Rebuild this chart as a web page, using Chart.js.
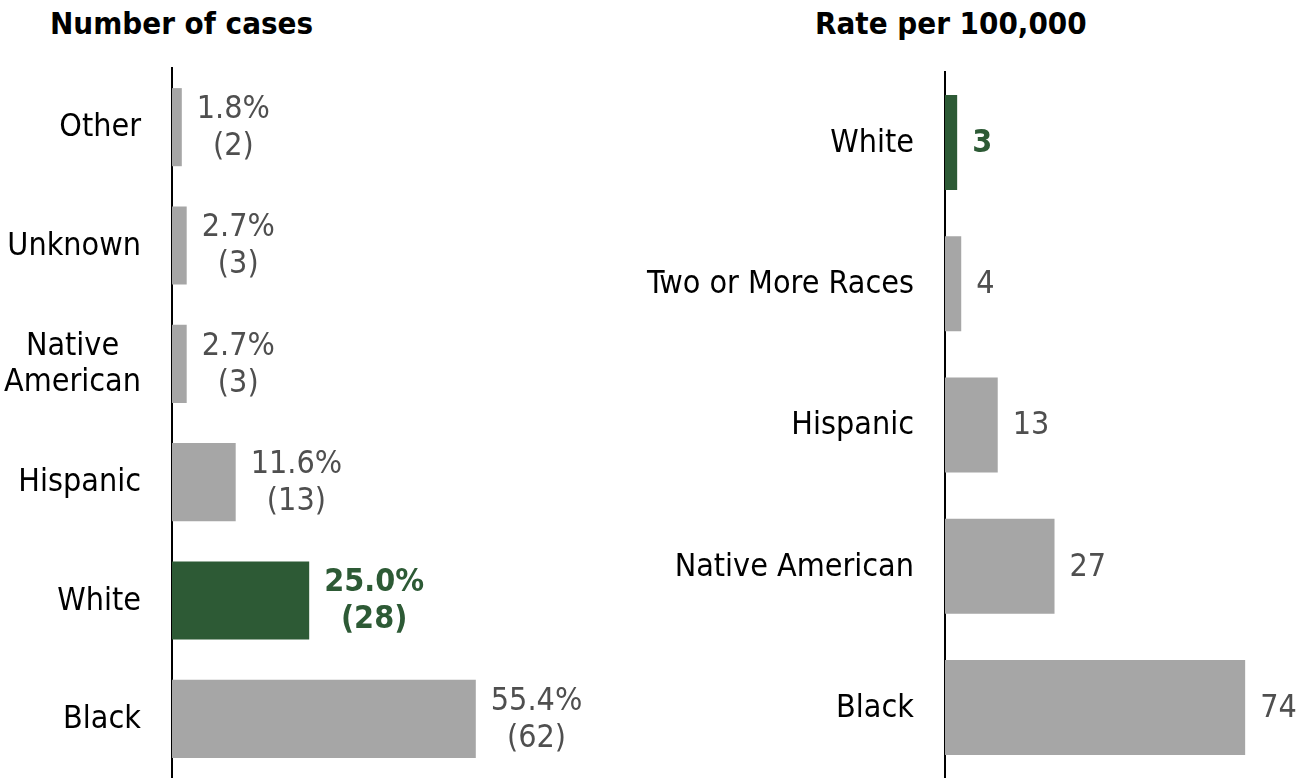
<!DOCTYPE html>
<html>
<head>
<meta charset="utf-8">
<script src="https://cdn.jsdelivr.net/npm/chart.js@4.4.1/dist/chart.umd.min.js"></script>
<style>
  html, body { margin:0; padding:0; background:#ffffff; }
  #wrap { position:relative; width:1306px; height:778px; overflow:hidden; }
  .title { position:absolute; top:8px; line-height:31px; font-family:"DejaVu Sans Condensed","DejaVu Sans",sans-serif; font-weight:bold; font-size:31px; color:#000; white-space:nowrap; }
  canvas { position:absolute; top:0; }
</style>
</head>
<body>
<div id="wrap">
  <div class="title" style="left:50px;">Number of cases</div>
  <div class="title" style="left:815px;">Rate per 100,000</div>
  <canvas id="left" width="613" height="778" style="left:0px;"></canvas>
  <canvas id="right" width="676" height="778" style="left:630px;"></canvas>
</div>
<script>
// ---- data ----
const caseCategories = ['Other', 'Unknown', ['Native', 'American'], 'Hispanic', 'White', 'Black'];
const caseCounts = [2, 3, 3, 13, 28, 62];
const casePercents = [1.8, 2.7, 2.7, 11.6, 25.0, 55.4];
const caseHighlight = 'White';

const rateCategories = ['White', 'Two or More Races', 'Hispanic', 'Native American', 'Black'];
const rateValues = [3, 4, 13, 27, 74];
const rateHighlight = 'White';

// ---- styles ----
const FONT = '"DejaVu Sans Condensed","DejaVu Sans",sans-serif';
const GRAY = '#a6a6a6';
const GREEN = '#2d5a35';
const VALUE_GRAY = '#4f4f4f';
const LABEL_SIZE = 32;
const VALUE_SIZE = 32;

function catName(c) { return Array.isArray(c) ? c.join(' ') : c; }

function makeLabelPlugin(categories, valueLines, highlight) {
  return {
    id: 'customLabels',
    afterDatasetsDraw(chart) {
      const ctx = chart.ctx;
      const ys = chart.scales.y;
      const area = chart.chartArea;
      const meta = chart.getDatasetMeta(0);
      ctx.save();
      ctx.textBaseline = 'middle';
      categories.forEach((cat, i) => {
        const y = ys.getPixelForValue(i) + 1;
        // category label
        ctx.fillStyle = '#000000';
        ctx.font = `${LABEL_SIZE}px ${FONT}`;
        const right = area.left - 31;
        if (Array.isArray(cat)) {
          const w = Math.max(...cat.map(s => ctx.measureText(s).width));
          const cx = right - w / 2;
          ctx.textAlign = 'center';
          const lh = 36;
          const start = y - lh * (cat.length - 1) / 2;
          cat.forEach((s, k) => ctx.fillText(s, cx, start + k * lh));
        } else {
          ctx.textAlign = 'right';
          ctx.fillText(cat, right, y);
        }
        // value label
        const bar = meta.data[i];
        const isHi = catName(cat) === highlight;
        ctx.fillStyle = isHi ? GREEN : VALUE_GRAY;
        ctx.font = `${isHi ? 'bold ' : ''}${VALUE_SIZE}px ${FONT}`;
        const lines = valueLines(i);
        const w = Math.max(...lines.map(s => ctx.measureText(s).width));
        const lx = bar.x + 15;
        if (lines.length > 1) {
          ctx.textAlign = 'center';
          const lh = 37;
          const start = y - lh * (lines.length - 1) / 2;
          lines.forEach((s, k) => ctx.fillText(s, lx + w / 2, start + k * lh));
        } else {
          ctx.textAlign = 'left';
          ctx.fillText(lines[0], lx, y);
        }
      });
      ctx.restore();
    }
  };
}

function makeChart(id, categories, values, highlight, opts, valueLines) {
  return new Chart(document.getElementById(id), {
    type: 'bar',
    data: {
      labels: categories,
      datasets: [{
        data: values,
        backgroundColor: categories.map(c => catName(c) === highlight ? GREEN : GRAY),
        borderWidth: 0,
        categoryPercentage: 1.0,
        barPercentage: opts.barPct
      }]
    },
    options: {
      indexAxis: 'y',
      responsive: false,
      animation: false,
      devicePixelRatio: 1,
      layout: { padding: { left: 0, right: 0, top: opts.top, bottom: opts.bottom } },
      plugins: { legend: { display: false }, tooltip: { enabled: false }, title: { display: false } },
      scales: {
        x: { display: false, min: 0, max: opts.max },
        y: {
          display: true,
          grid: { display: false },
          ticks: { display: false },
          border: { display: true, color: '#000000', width: 2 },
          afterFit(scale) { scale.width = opts.axisX; }
        }
      }
    },
    plugins: [makeLabelPlugin(categories, valueLines, highlight)]
  });
}

makeChart('left', caseCategories, caseCounts, caseHighlight,
  { barPct: 0.66, top: 68, bottom: 0, max: 90, axisX: 172 },
  i => [casePercents[i].toFixed(1) + '%', '(' + caseCounts[i] + ')']);

makeChart('right', rateCategories, rateValues, rateHighlight,
  { barPct: 0.673, top: 72, bottom: 0, max: 89, axisX: 315 },
  i => [String(rateValues[i])]);
</script>
</body>
</html>
